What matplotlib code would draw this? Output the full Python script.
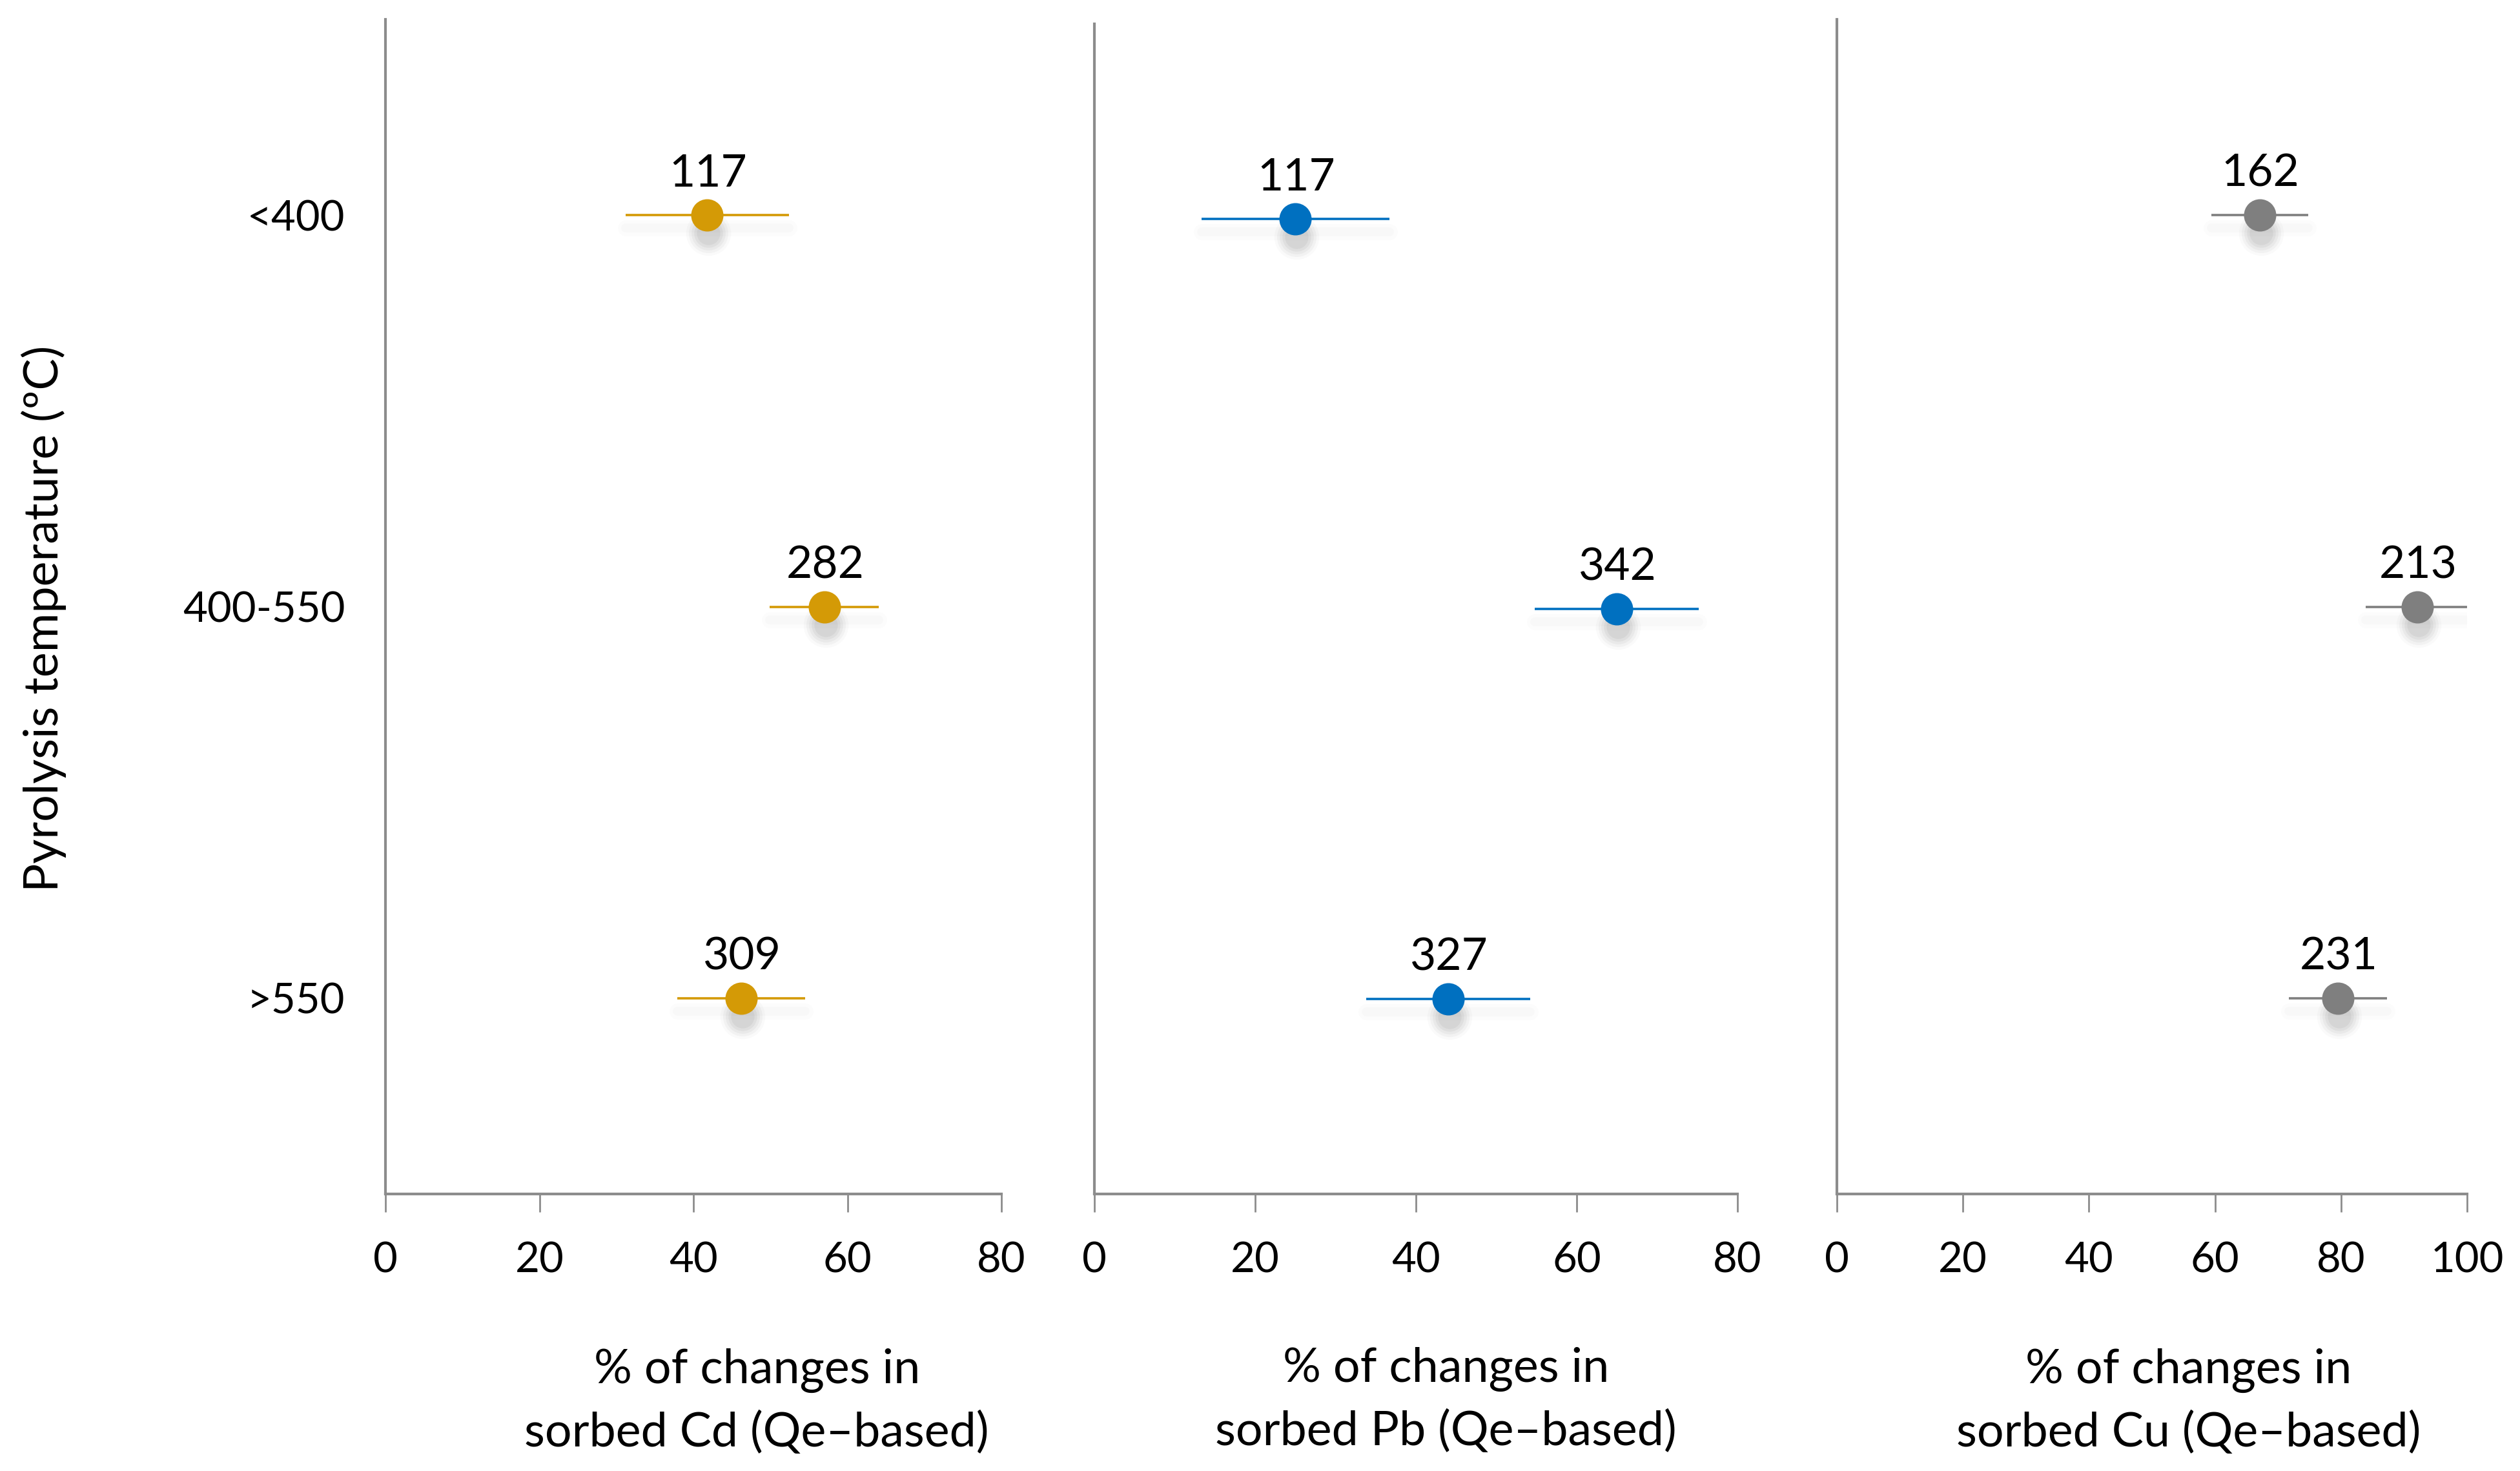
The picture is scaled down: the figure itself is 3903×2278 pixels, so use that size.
import matplotlib.pyplot as plt
from matplotlib import transforms

plt.rcParams['font.family'] = ['Lato', 'DejaVu Sans']

# data
categories = ["<400", "400-550", ">550"]

cd_mean = [41.8, 57.0, 46.2]
cd_err = [10.6, 7.1, 8.3]
cd_n = [117, 282, 309]

pb_mean = [25.0, 65.0, 44.0]
pb_err = [11.7, 10.2, 10.2]
pb_n = [117, 342, 327]

cu_mean = [67.1, 92.1, 79.5]
cu_err = [7.7, 8.2, 7.8]
cu_n = [162, 213, 231]

W, H = 3903, 2278
fig = plt.figure(figsize=(W / 100, H / 100), dpi=100)
fig.patch.set_facecolor('white')

axis_grey = '#8c8c8c'

panels = [
    dict(mean=cd_mean, err=cd_err, n=cd_n, color='#D49A06', xmax=80,
         px=(597, 1551), top=30, lab_x=0.603,
         label="% of changes in\nsorbed Cd (Qe\u2013based)"),
    dict(mean=pb_mean, err=pb_err, n=pb_n, color='#0070C0', xmax=80,
         px=(1695, 2691), top=37, lab_x=0.547,
         label="% of changes in\nsorbed Pb (Qe\u2013based)"),
    dict(mean=cu_mean, err=cu_err, n=cu_n, color='#7F7F7F', xmax=100,
         px=(2845, 3821), top=30, lab_x=0.558,
         label="% of changes in\nsorbed Cu (Qe\u2013based)"),
]

bottom_px = 1849
ypos = list(range(1, len(categories) + 1))

for i, p in enumerate(panels):
    x0, x1 = p['px']
    ax = fig.add_axes([x0 / W, 1 - bottom_px / H, (x1 - x0) / W, (bottom_px - p['top']) / H])
    ax.set_xlim(0, p['xmax'])
    ax.set_ylim(3.5, 0.5)

    # soft drop shadow under the markers and bars
    shadow = ax.transData + transforms.ScaledTranslation(0.02, -0.28, fig.dpi_scale_trans)
    for ms, a in [(50, 0.02), (44, 0.03), (38, 0.035), (32, 0.04), (26, 0.045)]:
        ax.plot(p['mean'], ypos, 'o', ms=ms, color='black', alpha=a, mec='none',
                transform=shadow, zorder=1)
    bar_shadow = ax.transData + transforms.ScaledTranslation(0, -0.2, fig.dpi_scale_trans)
    for m, e, y in zip(p['mean'], p['err'], ypos):
        for lw, a in [(18, 0.01), (10, 0.015)]:
            ax.plot([m - e, m + e], [y, y], color='black', lw=lw, alpha=a,
                    solid_capstyle='round', transform=bar_shadow, zorder=1)

    ax.errorbar(p['mean'], ypos, xerr=p['err'], fmt='o', color=p['color'],
                ms=35, mec=p['color'], elinewidth=2.6, capsize=0, zorder=3)

    for m, y, n in zip(p['mean'], ypos, p['n']):
        ax.annotate(str(n), (m, y), xytext=(1, 46), textcoords='offset points',
                    ha='center', va='center', fontsize=50, color='black')

    for side in ['top', 'right']:
        ax.spines[side].set_visible(False)
    for side in ['left', 'bottom']:
        ax.spines[side].set_color(axis_grey)
        ax.spines[side].set_linewidth(3)

    ax.set_xticks(range(0, p['xmax'] + 1, 20))
    ax.tick_params(axis='x', direction='out', length=20, width=2, color=axis_grey,
                   pad=33, labelsize=47)
    ax.set_yticks(ypos)
    if i == 0:
        ax.set_yticklabels(categories)
        ax.tick_params(axis='y', length=0, pad=45, labelsize=47)
    else:
        ax.set_yticklabels([])
        ax.tick_params(axis='y', length=0)

    ax.text(p['lab_x'], -0.1765, p['label'], transform=ax.transAxes, ha='center',
            va='center', fontsize=53, linespacing=1.5)

fig.text(68 / W, 1 - 958 / H, "Pyrolysis temperature (\u00baC)", rotation=90,
         ha='center', va='center', fontsize=53)

fig.savefig('out.png', dpi=100, facecolor='white')
